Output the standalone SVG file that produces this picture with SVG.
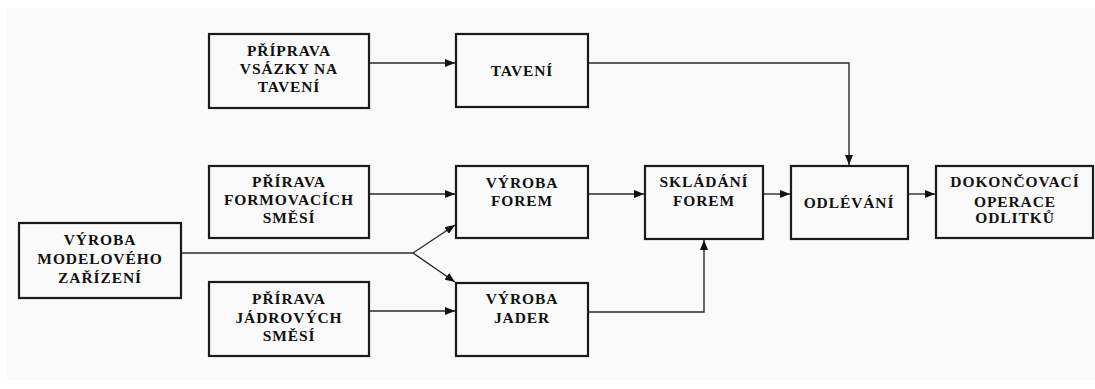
<svg xmlns="http://www.w3.org/2000/svg" width="1095" height="389" viewBox="0 0 1095 389">
<style>
.box{fill:#fafafa;stroke:#1a1a1a;stroke-width:2.2}
.t{font-family:"Liberation Serif","Times New Roman","DejaVu Serif",serif;font-weight:bold;font-size:15.5px;fill:#111;text-anchor:middle;letter-spacing:0.9px}
.c{fill:none;stroke:#2a2a2a;stroke-width:1.4}
</style>
<defs>
<marker id="ah" viewBox="0 0 10 8" refX="10" refY="4" markerWidth="10" markerHeight="8" markerUnits="userSpaceOnUse" orient="auto">
<path d="M0,0 L10,4 L0,8 z" fill="#111"/>
</marker>
</defs>
<rect x="0" y="0" width="1095" height="389" fill="#ffffff"/>
<rect x="7" y="8" width="1088" height="372" fill="#fafafa"/>
<g id="connectors">
<line class="c" x1="369" y1="63" x2="455" y2="63" marker-end="url(#ah)"/>
<line class="c" x1="369" y1="194" x2="455" y2="194" marker-end="url(#ah)"/>
<line class="c" x1="369" y1="311" x2="455" y2="311" marker-end="url(#ah)"/>
<polyline class="c" points="181,253 413,253"/>
<line class="c" x1="413" y1="253" x2="455" y2="225" marker-end="url(#ah)"/>
<line class="c" x1="413" y1="253" x2="455" y2="282" marker-end="url(#ah)"/>
<polyline class="c" points="588,63 849,63 849,165" marker-end="url(#ah)"/>
<line class="c" x1="588" y1="194" x2="644" y2="194" marker-end="url(#ah)"/>
<line class="c" x1="763" y1="194" x2="790" y2="194" marker-end="url(#ah)"/>
<line class="c" x1="908" y1="194" x2="935" y2="194" marker-end="url(#ah)"/>
<polyline class="c" points="588,312 704,312 704,240" marker-end="url(#ah)"/>
</g>
<g id="n1"><rect class="box" x="209" y="34" width="160" height="74"/>
<text class="t" x="289" y="56">PŘÍPRAVA</text><text class="t" x="289" y="74">VSÁZKY NA</text><text class="t" x="289" y="92">TAVENÍ</text></g>
<g id="n2"><rect class="box" x="456" y="34" width="132" height="73"/>
<text class="t" x="522" y="76">TAVENÍ</text></g>
<g id="n3"><rect class="box" x="209" y="166" width="160" height="72"/>
<text class="t" x="289" y="187">PŘÍRAVA</text><text class="t" x="289" y="205">FORMOVACÍCH</text><text class="t" x="289" y="223">SMĚSÍ</text></g>
<g id="n4"><rect class="box" x="456" y="166" width="132" height="72"/>
<text class="t" x="522" y="188">VÝROBA</text><text class="t" x="522" y="206">FOREM</text></g>
<g id="n5"><rect class="box" x="19" y="223" width="162" height="75"/>
<text class="t" x="100" y="245">VÝROBA</text><text class="t" x="100" y="264">MODELOVÉHO</text><text class="t" x="100" y="283">ZAŘÍZENÍ</text></g>
<g id="n6"><rect class="box" x="209" y="282" width="160" height="74"/>
<text class="t" x="289" y="304">PŘÍRAVA</text><text class="t" x="289" y="323">JÁDROVÝCH</text><text class="t" x="289" y="341">SMĚSÍ</text></g>
<g id="n7"><rect class="box" x="456" y="283" width="132" height="73"/>
<text class="t" x="522" y="304">VÝROBA</text><text class="t" x="522" y="323">JADER</text></g>
<g id="n8"><rect class="box" x="645" y="166" width="118" height="73"/>
<text class="t" x="704" y="187">SKLÁDÁNÍ</text><text class="t" x="704" y="206">FOREM</text></g>
<g id="n9"><rect class="box" x="791" y="166" width="117" height="73"/>
<text class="t" x="849" y="208">ODLÉVÁNÍ</text></g>
<g id="n10"><rect class="box" x="936" y="166" width="157" height="72"/>
<text class="t" x="1015" y="187">DOKONČOVACÍ</text><text class="t" x="1015" y="207">OPERACE</text><text class="t" x="1015" y="223">ODLITKŮ</text></g>
</svg>
